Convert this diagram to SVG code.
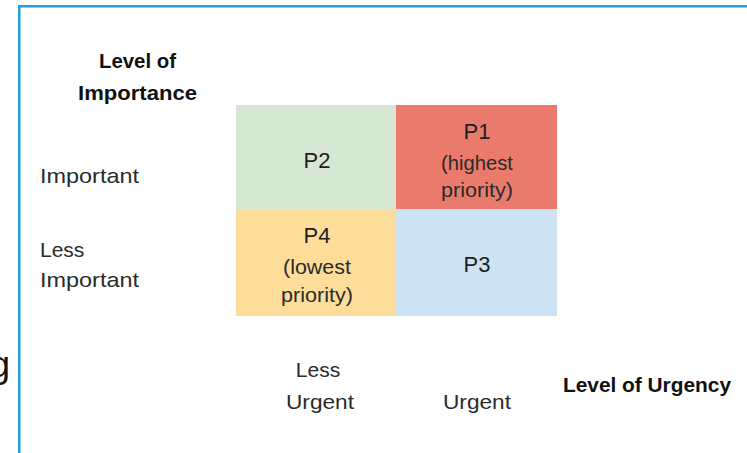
<svg xmlns="http://www.w3.org/2000/svg" width="747" height="453" viewBox="0 0 747 453">
<style>
  text { font-family: "Liberation Sans", Arial, sans-serif; fill: #2b2b2b; }
  .lbl { font-size: 21px; }
  .bold { font-size: 21px; font-weight: bold; fill: #111; }
  .cell { font-size: 22px; text-anchor: middle; fill: #1e1e1e; }
  .sub { font-size: 20px; text-anchor: middle; fill: #2a2a2a; }
</style>
<rect x="0" y="0" width="747" height="453" fill="#ffffff"/>
<text x="-10" y="377" style="font-size:36px;fill:#111">g</text>
<rect x="19.25" y="6.25" width="800" height="500" fill="none" stroke="#1ea0e0" stroke-width="2.5"/>

<g id="axis-importance">
  <text class="bold" x="137.5" y="68" text-anchor="middle" textLength="77" lengthAdjust="spacingAndGlyphs">Level of</text>
  <text class="bold" x="137.5" y="100" text-anchor="middle" textLength="119" lengthAdjust="spacingAndGlyphs">Importance</text>
</g>
<g id="row-important">
  <text class="lbl" x="40" y="183" textLength="99" lengthAdjust="spacingAndGlyphs">Important</text>
</g>
<g id="row-less-important">
  <text class="lbl" x="40" y="257">Less</text>
  <text class="lbl" x="40" y="287" textLength="99" lengthAdjust="spacingAndGlyphs">Important</text>
</g>

<g id="P2">
  <rect x="236" y="105" width="160" height="104" fill="#d6e8d3"/>
  <text class="cell" x="317" y="168">P2</text>
</g>
<g id="P1">
  <rect x="396" y="105" width="161" height="104" fill="#ea7a6c"/>
  <text class="cell" x="477" y="139">P1</text>
  <text class="sub" x="477" y="170" textLength="72" lengthAdjust="spacingAndGlyphs">(highest</text>
  <text class="sub" x="477" y="197" textLength="72" lengthAdjust="spacingAndGlyphs">priority)</text>
</g>
<g id="P4">
  <rect x="236" y="209" width="160" height="107" fill="#fedd9b"/>
  <text class="cell" x="317" y="243">P4</text>
  <text class="sub" x="317" y="274" textLength="68" lengthAdjust="spacingAndGlyphs">(lowest</text>
  <text class="sub" x="317" y="302" textLength="72" lengthAdjust="spacingAndGlyphs">priority)</text>
</g>
<g id="P3">
  <rect x="396" y="209" width="161" height="107" fill="#cde2f2"/>
  <text class="cell" x="477" y="272">P3</text>
</g>

<g id="col-less-urgent">
  <text class="lbl" x="318" y="377" text-anchor="middle">Less</text>
  <text class="lbl" x="320" y="409" text-anchor="middle" textLength="68" lengthAdjust="spacingAndGlyphs">Urgent</text>
</g>
<g id="col-urgent">
  <text class="lbl" x="477" y="409" text-anchor="middle" textLength="68" lengthAdjust="spacingAndGlyphs">Urgent</text>
</g>
<g id="axis-urgency">
  <text class="bold" x="563" y="392" textLength="168" lengthAdjust="spacingAndGlyphs">Level of Urgency</text>
</g>
</svg>
